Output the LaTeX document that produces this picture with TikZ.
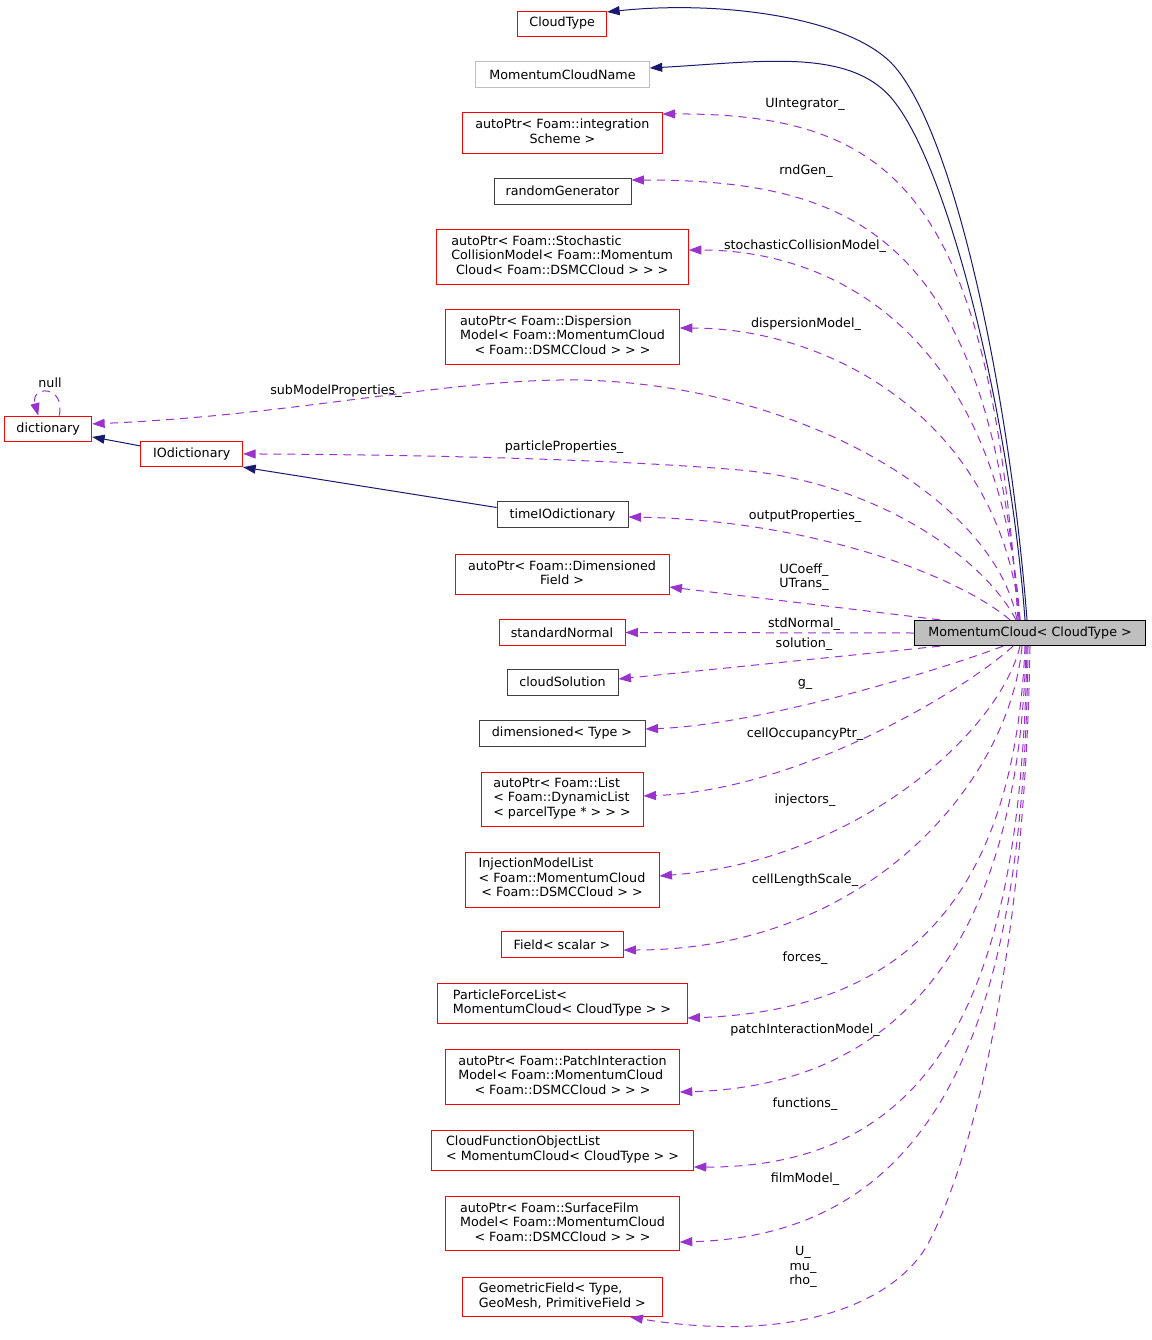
\documentclass[tikz,border=0pt]{standalone}
\usepackage{fontspec}
\setmainfont{DejaVu Sans}
\usetikzlibrary{arrows.meta}
\definecolor{navyedge}{HTML}{191970}
\definecolor{orchid}{HTML}{9A32CD}
\definecolor{boxred}{HTML}{FF0000}
\definecolor{boxgray}{HTML}{BFBFBF}
\definecolor{boxdark}{HTML}{404040}
\newcommand{\LL}[1]{\multicolumn{1}{@{}l@{}}{#1}}
\newcommand{\tb}[1]{\begin{tabular}{@{}c@{}}#1\end{tabular}}
\begin{document}
\begin{tikzpicture}[x=1pt,y=-1pt,
  txt/.style={font=\fontsize{12.7}{14.5}\selectfont, inner sep=0pt},
  bx/.style 2 args={txt, draw, line width=0.9pt, minimum width=#1, minimum height=#2},
  redbox/.style 2 args={bx={#1}{#2}, draw=boxred},
  darkbox/.style 2 args={bx={#1}{#2}, draw=boxdark},
  graybox/.style 2 args={bx={#1}{#2}, draw=boxgray},
  lbl/.style={txt, align=center, text=black},
  dep/.style={draw=orchid, line width=1pt, dash pattern=on 8pt off 6pt, -{Triangle[length=12.5pt,width=9pt]}},
  inh/.style={draw=navyedge, line width=1pt, -{Triangle[length=12.5pt,width=9pt]}}]
\useasboundingbox (0,0) rectangle (1151,1340);
\fill[white] (0,0) rectangle (1151,1340);

% nodes
\node[redbox={89pt}{25pt}] (cloudtype) at (562.2,23.5) {CloudType};
\node[graybox={173.6pt}{25.6pt}] (mcname) at (562.5,74.5) {MomentumCloudName};
\node[redbox={199.3pt}{40.6pt}] (integ) at (562.4,133) {\tb{\LL{autoPtr< Foam::integration}\\ Scheme >}};
\node[darkbox={137pt}{26pt}] (rndgen) at (562.5,191) {randomGenerator};
\node[redbox={252.3pt}{54.7pt}] (stoch) at (562.2,256.7) {\tb{\LL{autoPtr< Foam::Stochastic}\\ \LL{CollisionModel< Foam::Momentum}\\ Cloud< Foam::DSMCCloud > > >}};
\node[redbox={233.6pt}{55pt}] (disp) at (562.5,336.8) {\tb{\LL{autoPtr< Foam::Dispersion}\\ \LL{Model< Foam::MomentumCloud}\\ < Foam::DSMCCloud > > >}};
\node[redbox={87pt}{25.7pt}] (dict) at (48.2,428.9) {dictionary};
\node[redbox={102pt}{25.7pt}] (iodict) at (191.7,453.9) {IOdictionary};
\node[darkbox={131pt}{25.5pt}] (timeio) at (562.5,514.5) {timeIOdictionary};
\node[redbox={214pt}{39.5pt}] (dimfield) at (562,574.5) {\tb{\LL{autoPtr< Foam::Dimensioned}\\ Field >}};
\node[redbox={126pt}{25.5pt}] (stdnormal) at (562,632.5) {standardNormal};
\node[bx={231.4pt}{25.4pt}, draw=black, fill=boxgray] (mc) at (1030,633) {MomentumCloud< CloudType >};
\node[darkbox={111pt}{26pt}] (cloudsol) at (562.5,682) {cloudSolution};
\node[darkbox={166pt}{26pt}] (dimtype) at (562,733) {dimensioned< Type >};
\node[redbox={162pt}{54pt}] (list) at (562,799) {\tb{\LL{autoPtr< Foam::List}\\ \LL{< Foam::DynamicList}\\ < parcelType * > > >}};
\node[redbox={194pt}{55pt}] (injlist) at (562,879.5) {\tb{\LL{InjectionModelList}\\ \LL{< Foam::MomentumCloud}\\ < Foam::DSMCCloud > >}};
\node[redbox={122pt}{25.5pt}] (field) at (562,944.5) {Field< scalar >};
\node[redbox={250pt}{39.5pt}] (pfl) at (562,1003.5) {\tb{\LL{ParticleForceList<}\\ MomentumCloud< CloudType > >}};
\node[redbox={233.6pt}{55pt}] (patch) at (562.5,1076.8) {\tb{\LL{autoPtr< Foam::PatchInteraction}\\ \LL{Model< Foam::MomentumCloud}\\ < Foam::DSMCCloud > > >}};
\node[redbox={261.6pt}{40pt}] (cfol) at (562.5,1150) {\tb{\LL{CloudFunctionObjectList}\\ < MomentumCloud< CloudType > >}};
\node[redbox={233.6pt}{54pt}] (film) at (562.5,1223.7) {\tb{\LL{autoPtr< Foam::SurfaceFilm}\\ \LL{Model< Foam::MomentumCloud}\\ < Foam::DSMCCloud > > >}};
\node[redbox={200pt}{39.4pt}] (geo) at (562.3,1297) {\tb{\LL{GeometricField< Type,}\\ GeoMesh, PrimitiveField >}};

% labels
\node[lbl] (l-null) at (50,383) {null};
\node[lbl] (l-uint) at (805,104) {UIntegrator\_};
\node[lbl] (l-rnd) at (806,171) {rndGen\_};
\node[lbl] (l-stoch) at (805,246) {stochasticCollisionModel\_};
\node[lbl] (l-disp) at (806,324) {dispersionModel\_};
\node[lbl] (l-sub) at (336,391) {subModelProperties\_};
\node[lbl] (l-part) at (564,447) {particleProperties\_};
\node[lbl] (l-out) at (805,516) {outputProperties\_};
\node[lbl] (l-ucoeff) at (804,577) {UCoeff\_\\UTrans\_};
\node[lbl] (l-std) at (804,624) {stdNormal\_};
\node[lbl] (l-sol) at (804,644) {solution\_};
\node[lbl] (l-g) at (805,684) {g\_};
\node[lbl] (l-occ) at (805,734) {cellOccupancyPtr\_};
\node[lbl] (l-inj) at (805,800) {injectors\_};
\node[lbl] (l-cls) at (805,880) {cellLengthScale\_};
\node[lbl] (l-forces) at (805,958) {forces\_};
\node[lbl] (l-patch) at (805,1030) {patchInteractionModel\_};
\node[lbl] (l-func) at (805,1104) {functions\_};
\node[lbl] (l-film) at (805,1179) {filmModel\_};
\node[lbl] (l-u) at (803,1267) {U\_\\mu\_\\rho\_};

% inheritance (navy)
\draw[inh] ([xshift=-3pt]mc.north) .. controls (1010,400) and (957,140) .. (895,67) .. controls (852,17) and (720,0) .. ([yshift=11.5pt]cloudtype.east);
\draw[inh] ([xshift=-5pt]mc.north) .. controls (1010,420) and (950,170) .. (893,100) .. controls (850,47) and (760,62) .. ([yshift=6.5pt]mcname.east);
\draw[inh] ([yshift=8pt]iodict.west) -- ([yshift=-8pt]dict.east);
\draw[inh] ([yshift=7pt]timeio.west) -- (iodict.south east);

% usage (purple dashed)
\draw[dep] ([xshift=11pt]dict.north) .. controls (66,385) and (30,385) .. ([xshift=-10pt]dict.north);
\draw[dep] ([xshift=-12pt]mc.north) .. controls (990,200) and (900,113) .. ([yshift=19pt]integ.east);
\draw[dep] ([xshift=-11pt]mc.north) .. controls (990,240) and (860,180) .. ([yshift=11pt]rndgen.east);
\draw[dep] ([xshift=-10pt]mc.north) .. controls (1000,340) and (840,250) .. ([yshift=6.7pt]stoch.east);
\draw[dep] ([xshift=-10pt]mc.north) .. controls (1000,420) and (830,328) .. ([yshift=8.8pt]disp.east);
\draw[dep] ([xshift=-13pt]mc.north) .. controls (995,500) and (800,385) .. (580,380) .. controls (450,378) and (300,415) .. ([yshift=5pt]dict.east);
\draw[dep] ([xshift=-14pt]mc.north) .. controls (985,560) and (880,483) .. (740,470) .. controls (620,460) and (450,455) .. (iodict.east);
\draw[dep] ([xshift=-20pt]mc.north) .. controls (950,570) and (800,520) .. ([yshift=-2.5pt]timeio.east);
\draw[dep] ([xshift=-90pt]mc.north) -- ([yshift=-12.5pt]dimfield.east);
\draw[dep] (mc.west) -- (stdnormal.east);
\draw[dep] ([xshift=-90pt]mc.south) -- ([yshift=3pt]cloudsol.east);
\draw[dep] ([xshift=-27pt]mc.south) .. controls (940,670) and (760,725) .. ([yshift=4pt]dimtype.east);
\draw[dep] ([xshift=-17pt]mc.south) .. controls (965,690) and (800,790) .. ([yshift=3pt]list.east);
\draw[dep] ([xshift=-10pt]mc.south) .. controls (1000,730) and (860,860) .. ([yshift=3.5pt]injlist.east);
\draw[dep] ([xshift=-8pt]mc.south) .. controls (1010,780) and (870,950) .. ([yshift=-5.5pt]field.east);
\draw[dep] ([xshift=-5pt]mc.south) .. controls (1015,880) and (920,1010) .. ([yshift=-14.5pt]pfl.east);
\draw[dep] ([xshift=-4pt]mc.south) .. controls (1020,900) and (930,1085) .. ([yshift=-15.2pt]patch.east);
\draw[dep] ([xshift=-3pt]mc.south) .. controls (1022,950) and (960,1168) .. ([yshift=-17pt]cfol.east);
\draw[dep] ([xshift=-2pt]mc.south) .. controls (1025,1000) and (950,1235) .. ([yshift=-18.3pt]film.east);
\draw[dep] (mc.south) .. controls (1025,950) and (975,1150) .. (930,1240) .. controls (900,1300) and (800,1345) .. ([xshift=68pt]geo.south);
\end{tikzpicture}
\end{document}
